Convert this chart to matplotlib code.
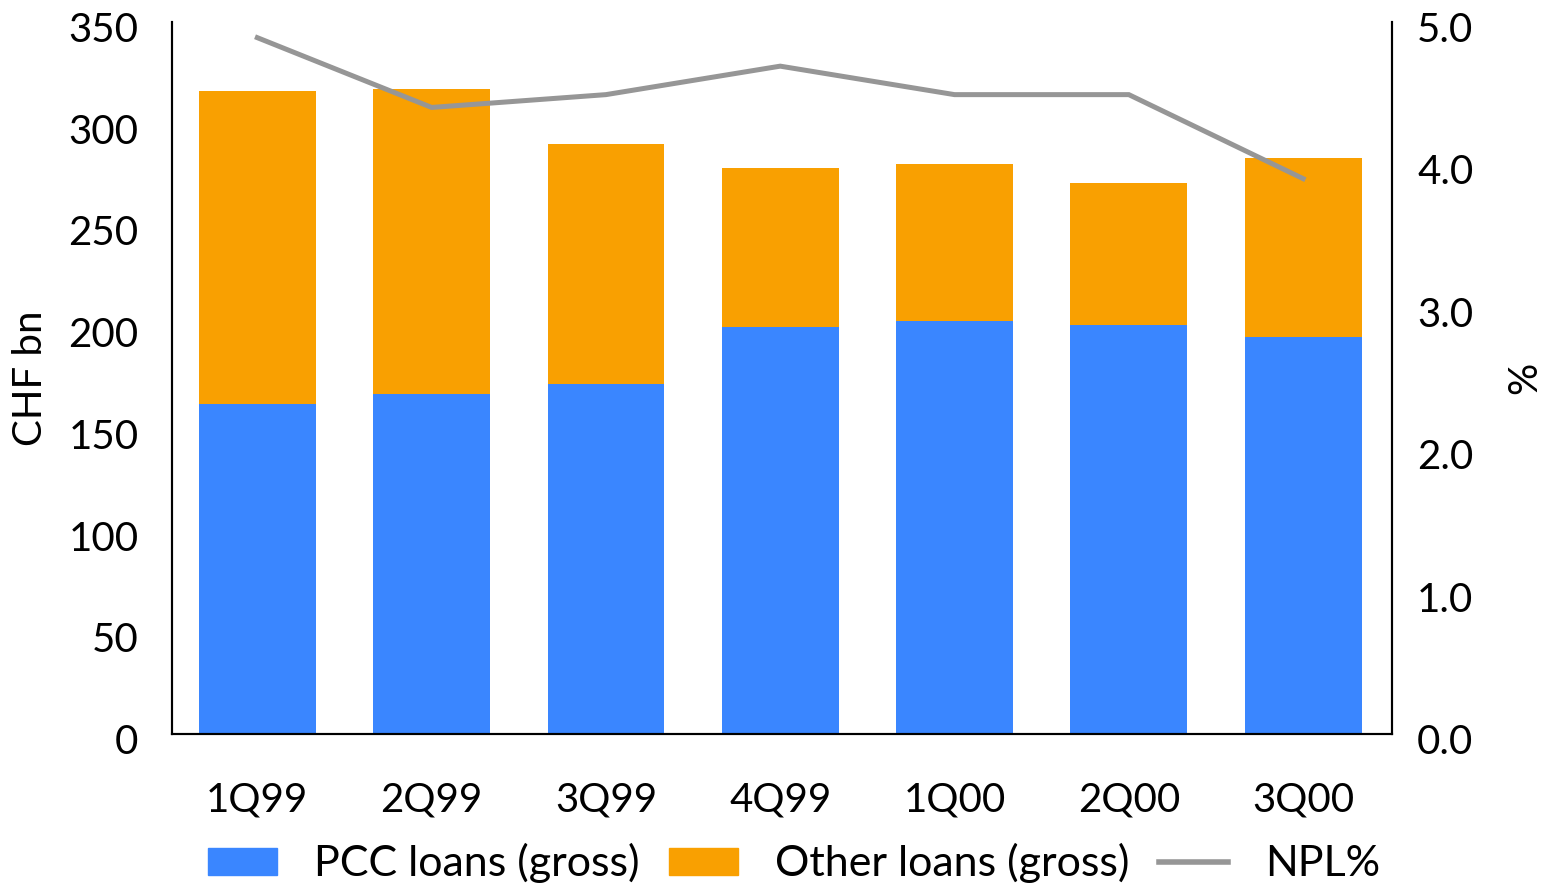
import numpy as np
import matplotlib.pyplot as plt
import matplotlib.transforms as mtransforms
from matplotlib.patches import Patch
from matplotlib.lines import Line2D

plt.rcParams['font.family'] = ['Lato', 'DejaVu Sans']

quarters = ['1Q99', '2Q99', '3Q99', '4Q99', '1Q00', '2Q00', '3Q00']
pcc_loans = [162, 167, 172, 200, 203, 201, 195]
total_loans = [316, 317, 290, 278, 280, 271, 283]
other_loans = [t - p for t, p in zip(total_loans, pcc_loans)]
npl_pct = [4.89, 4.40, 4.49, 4.69, 4.49, 4.49, 3.90]

blue = '#3A86FF'
orange = '#F9A001'
grey = '#969696'

fig = plt.figure(figsize=(15.63, 8.91), dpi=100)
ax = fig.add_axes([0.110, 0.1762, 0.7806, 0.7991])
ax2 = ax.twinx()

x = np.arange(len(quarters))
ax.bar(x, pcc_loans, width=0.67, color=blue, zorder=2)
ax.bar(x, other_loans, width=0.67, bottom=pcc_loans, color=orange, zorder=2)
ax2.plot(x, npl_pct, color=grey, lw=3.6, solid_joinstyle='miter')

ax.set_xlim(-0.49, 6.51)
ax.set_ylim(0, 350)
ax.set_yticks(range(0, 351, 50))
ax2.set_ylim(0, 5)
ax2.set_yticks(np.arange(0, 5.01, 1))
ax2.set_yticklabels([f'{v:.1f}' for v in np.arange(0, 5.01, 1)])

ax.set_xticks(x)
ax.set_xticklabels(quarters)

for a in (ax, ax2):
    a.spines['top'].set_visible(False)
    for s in ('left', 'right', 'bottom'):
        a.spines[s].set_linewidth(1.5)
        a.spines[s].set_color('black')
    a.tick_params(length=0, labelsize=29)

ax.tick_params(axis='x', pad=34)
ax.tick_params(axis='y', pad=24)
ax2.tick_params(axis='y', pad=18)

# nudge the value labels down a few pixels
shift = mtransforms.ScaledTranslation(0, -5 / 100, fig.dpi_scale_trans)
for lab in ax.get_yticklabels() + ax2.get_yticklabels():
    lab.set_transform(lab.get_transform() + shift)

ax.set_ylabel('CHF bn', fontsize=29, labelpad=14)
ax2.set_ylabel('%', fontsize=29, labelpad=24)

handles = [
    Patch(color=blue, label='PCC loans (gross)'),
    Patch(color=orange, label='Other loans (gross)'),
    Line2D([], [], color=grey, lw=4, label='NPL%'),
]
fig.legend(handles=handles, loc='center', bbox_to_anchor=(0.508, 0.031), ncol=3,
           frameon=False, fontsize=31, handlelength=1.6, handleheight=0.6,
           handletextpad=0.85, columnspacing=0.7)

fig.savefig('out.png', dpi=100)
